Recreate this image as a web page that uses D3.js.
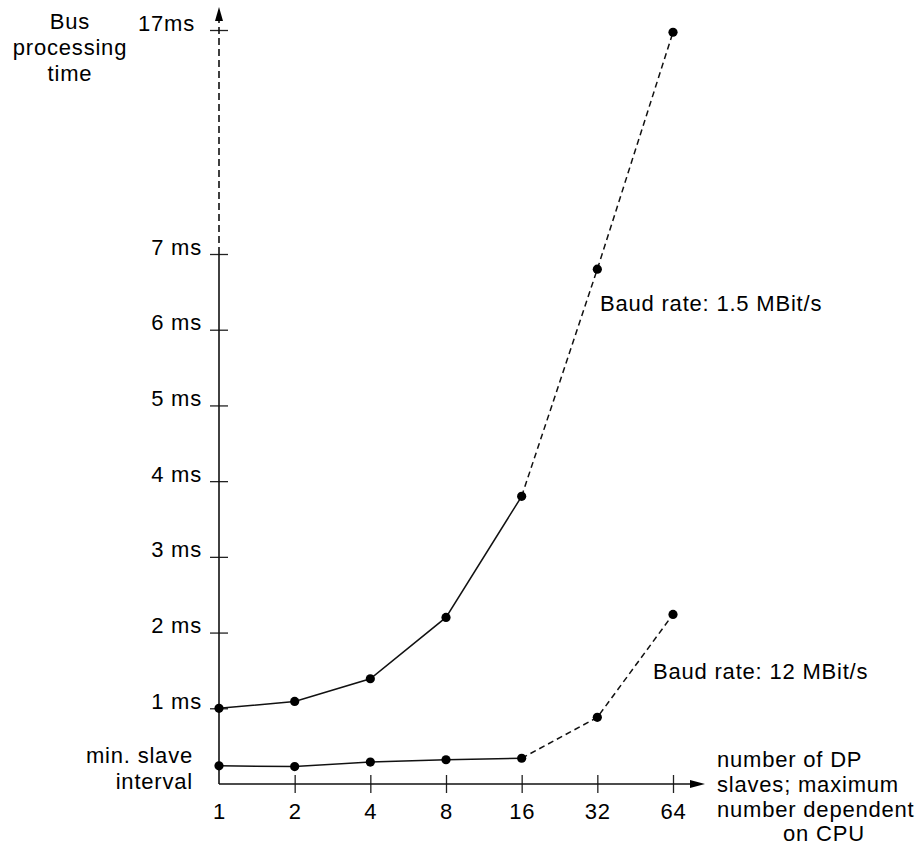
<!DOCTYPE html>
<html>
<head>
<meta charset="utf-8">
<script src="https://cdn.jsdelivr.net/npm/d3@7"></script>
<style>
  body { margin: 0; background: #fff; }
  text { font-family: "Liberation Sans", Arial, sans-serif; font-size: 22px; letter-spacing: 0.8px; fill: #000; }
</style>
</head>
<body>
<div class="chart"></div>
<script>
// data
var xCats = ["1", "2", "4", "8", "16", "32", "64"];
var yTicks = [1, 2, 3, 4, 5, 6, 7, 17];
var baud15 = [1.0, 1.09, 1.39, 2.2, 3.8, 6.8, 16.9];
var baud12 = [0.24, 0.23, 0.29, 0.32, 0.34, 0.88, 2.24];
var solidCount = 5; // 1..16 drawn solid, 16..64 dashed

var width = 924, height = 848;

var svg = d3.select(".chart").append("svg")
    .attr("width", width)
    .attr("height", height);

//scales: the y axis is broken above 7 ms
var x = d3.scalePoint().domain(xCats).range([219, 673]);
var y = d3.scaleLinear().domain([0, 7, 17]).range([784, 254, 30]);

//y axis
var yAxis = svg.append("g")
    .attr("transform", "translate(" + x("1") + ",0)")
    .call(d3.axisLeft(y).tickValues(yTicks).tickSize(9).tickPadding(8)
        .tickFormat(function(d) { return d === 17 ? "17ms" : d + " ms"; }));
yAxis.select(".domain").remove();
yAxis.selectAll(".tick line").attr("x1", 9).attr("stroke", "#222").attr("stroke-width", 1.3);
yAxis.selectAll(".tick text")
    .attr("dy", "0")
    .attr("dx", function(d) { return d === 17 ? -7 : 0; })
    .style("font-size", "22px")
    .style("font-family", null)
    .attr("fill", "#000");

//x axis
var xAxis = svg.append("g")
    .attr("transform", "translate(0," + y(0) + ")")
    .call(d3.axisBottom(x).tickSize(9).tickPadding(10));
xAxis.select(".domain").remove();
xAxis.selectAll(".tick line").attr("y1", -9).attr("stroke", "#222").attr("stroke-width", 1.3);
xAxis.selectAll(".tick").filter(function(d) { return d === "1"; }).select("line").remove();
xAxis.selectAll(".tick text")
    .style("font-size", "22px")
    .style("font-family", null)
    .attr("fill", "#000");

//axis lines
var x0 = x("1"), y0 = y(0);
svg.append("line")
    .attr("x1", x0).attr("x2", x0)
    .attr("y1", y0).attr("y2", y(7))
    .attr("stroke", "#111").attr("stroke-width", 1.6);
svg.append("line")
    .attr("x1", x0).attr("x2", x0)
    .attr("y1", y(7)).attr("y2", 20)
    .attr("stroke", "#111").attr("stroke-width", 1.6)
    .attr("stroke-dasharray", "7,4");
svg.append("path")
    .attr("d", "M" + x0 + ",7 L" + (x0 - 4) + ",21 L" + (x0 + 4) + ",21 Z")
    .attr("fill", "#000");
svg.append("line")
    .attr("x1", x0).attr("x2", 692)
    .attr("y1", y0).attr("y2", y0)
    .attr("stroke", "#111").attr("stroke-width", 1.6);
svg.append("path")
    .attr("d", "M705," + y0 + " L690," + (y0 - 4) + " L690," + (y0 + 4) + " Z")
    .attr("fill", "#000");

//series
var line = d3.line()
    .x(function(d) { return x(d.cat); })
    .y(function(d) { return y(d.val); });

function drawSeries(values) {
    var pts = xCats.map(function(c, i) { return { cat: c, val: values[i] }; });
    svg.append("path")
        .datum(pts.slice(0, solidCount))
        .attr("d", line)
        .attr("fill", "none")
        .attr("stroke", "#111")
        .attr("stroke-width", 1.5);
    svg.append("path")
        .datum(pts.slice(solidCount - 1))
        .attr("d", line)
        .attr("fill", "none")
        .attr("stroke", "#111")
        .attr("stroke-width", 1.5)
        .attr("stroke-dasharray", "6,4");
    svg.selectAll(null)
        .data(pts)
        .enter().append("circle")
        .attr("cx", function(d) { return x(d.cat); })
        .attr("cy", function(d) { return y(d.val); })
        .attr("r", 4.6)
        .attr("fill", "#000");
}
drawSeries(baud15);
drawSeries(baud12);

//labels
function multiText(lines, xPos, yPos, anchor, step) {
    var t = svg.append("text").attr("text-anchor", anchor);
    lines.forEach(function(s, i) {
        t.append("tspan").attr("x", xPos).attr("y", yPos + i * step).text(s);
    });
    return t;
}
multiText(["Bus", "processing", "time"], 70, 29, "middle", 26);
multiText(["min. slave", "interval"], 193, 763, "end", 26);
multiText(["number of DP", "slaves; maximum", "number dependent"], 717, 767, "start", 25);
svg.append("text").attr("x", 783).attr("y", 841).text("on CPU");

svg.append("text").attr("x", 600).attr("y", 311).text("Baud rate: 1.5 MBit/s");
svg.append("text").attr("x", 653).attr("y", 679).text("Baud rate: 12 MBit/s");
</script>
</body>
</html>
